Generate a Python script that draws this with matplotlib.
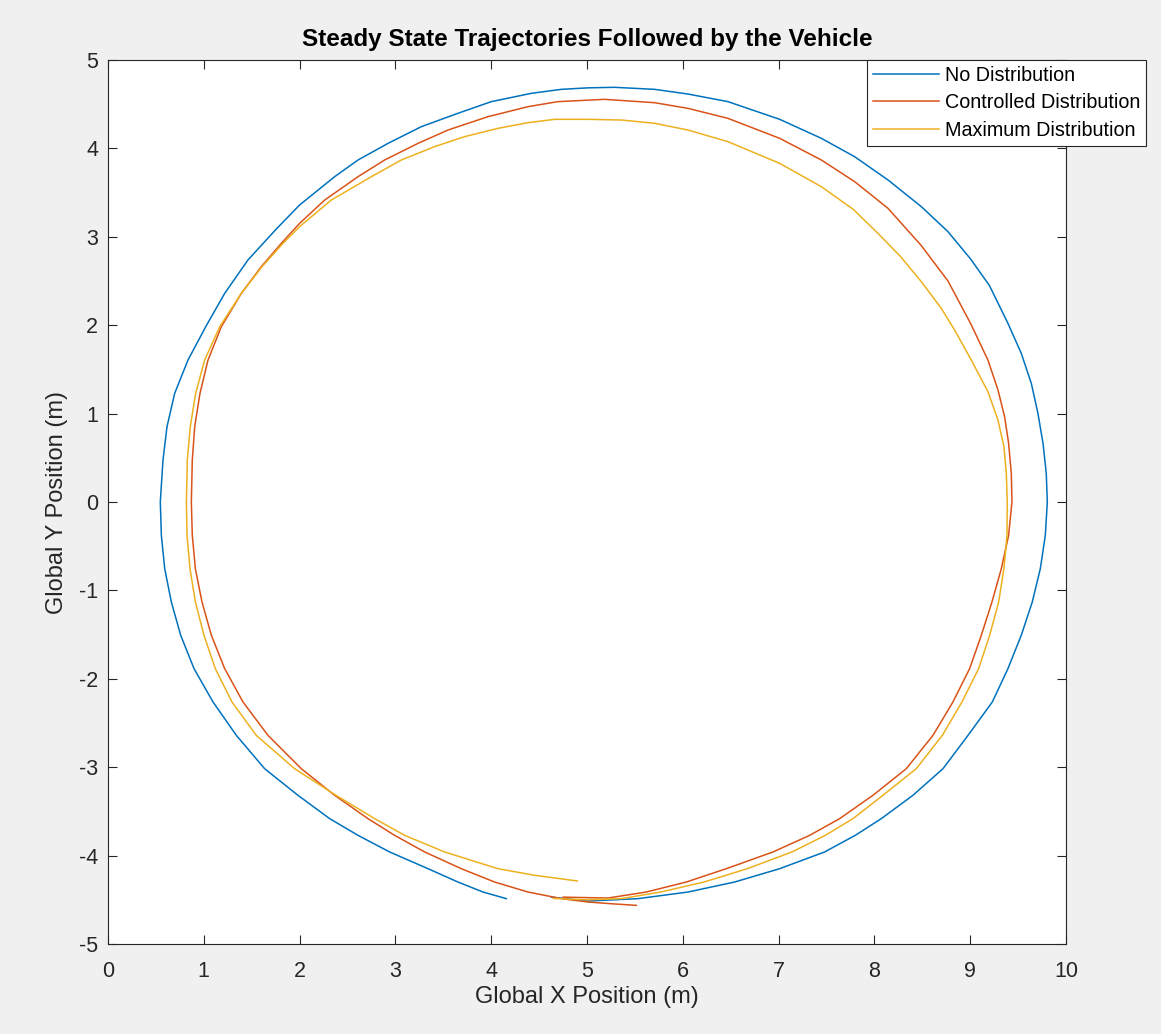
import matplotlib.pyplot as plt

# Trajectory points (metres), each run counter-clockwise
no_dist_x = [4.63, 5.01, 5.532, 6.054, 6.541, 7.011, 7.48, 7.80, 8.072, 8.402, 8.716, 8.977, 9.231, 9.394,
             9.533, 9.648, 9.732, 9.784, 9.805,
             9.794, 9.76, 9.707, 9.638, 9.533, 9.394, 9.2, 9.004, 8.768, 8.49, 8.142, 7.794, 7.446,
             7.011, 6.471, 6.054, 5.706, 5.288,
             5.01, 4.732, 4.419, 4.001, 3.653, 3.271, 2.923, 2.61, 2.366, 2.0, 1.75, 1.461, 1.218,
             1.02, 0.835, 0.696, 0.616, 0.574, 0.546,
             0.557, 0.592, 0.661, 0.759, 0.898, 1.096, 1.34, 1.635, 1.983, 2.314, 2.61, 2.94, 3.34,
             3.653, 3.914, 4.158]
no_dist_y = [-4.47, -4.514, -4.487, -4.412, -4.299, -4.148, -3.959, -3.771, -3.582, -3.318, -3.017, -2.64, -2.262, -1.885,
             -1.508, -1.131, -0.754, -0.377, 0.0,
             0.324, 0.664, 1.003, 1.342, 1.682, 2.021, 2.45, 2.749, 3.058, 3.341, 3.643, 3.906, 4.114,
             4.329, 4.529, 4.615, 4.668, 4.691,
             4.685, 4.668, 4.623, 4.529, 4.397, 4.246, 4.057, 3.869, 3.68, 3.36, 3.08, 2.738, 2.36,
             1.983, 1.606, 1.229, 0.852, 0.475, 0.0,
             -0.377, -0.754, -1.131, -1.508, -1.885, -2.262, -2.64, -3.017, -3.318, -3.582, -3.771, -3.959, -4.148,
             -4.299, -4.412, -4.487]

ctrl_x = [4.75, 5.219, 5.619, 6.036, 6.454, 6.941, 7.324, 7.637, 7.985, 8.333, 8.611, 8.82, 8.994, 9.116,
          9.227, 9.325, 9.401, 9.436,
          9.429, 9.401, 9.359, 9.29, 9.185, 9.004, 8.768, 8.49, 8.142, 7.794, 7.446, 7.011, 6.471,
          6.054, 5.706, 5.184,
          4.697, 4.384, 3.967, 3.549, 3.236, 2.888, 2.61, 2.262, 2.0, 1.809, 1.6, 1.392, 1.183,
          1.044, 0.96, 0.905, 0.88, 0.87,
          0.88, 0.912, 0.981, 1.079, 1.218, 1.409, 1.67, 2.018, 2.366, 2.714, 2.992, 3.306, 3.688,
          4.036, 4.384, 4.732, 5.01, 5.26, 5.515]
ctrl_y = [-4.47, -4.48, -4.412, -4.299, -4.148, -3.959, -3.771, -3.582, -3.318, -3.017, -2.64, -2.262, -1.885, -1.508,
          -1.131, -0.754, -0.377, 0.0,
          0.324, 0.664, 0.965, 1.267, 1.606, 2.02, 2.5, 2.9, 3.322, 3.624, 3.869, 4.114, 4.34,
          4.453, 4.517, 4.555,
          4.529, 4.472, 4.359, 4.208, 4.057, 3.869, 3.68, 3.416, 3.152, 2.926, 2.662, 2.36, 1.983,
          1.606, 1.229, 0.852, 0.475, 0.0,
          -0.377, -0.754, -1.131, -1.508, -1.885, -2.262, -2.64, -3.017, -3.318, -3.582, -3.771, -3.959, -4.148,
          -4.299, -4.412, -4.487, -4.525, -4.545, -4.563]

max_x = [4.65, 5.0, 5.358, 5.769, 6.221, 6.673, 7.139, 7.487, 7.776, 8.089, 8.437, 8.709, 8.914, 9.088,
         9.203, 9.297, 9.352, 9.384, 9.387,
         9.377, 9.352, 9.29, 9.185, 9.011, 8.837, 8.698, 8.49, 8.27, 8.037, 7.78, 7.446, 7.011,
         6.471, 6.054, 5.706, 5.358, 5.01,
         4.663, 4.384, 4.071, 3.723, 3.41, 3.062, 2.749, 2.331, 2.0, 1.827, 1.608, 1.392, 1.166,
         1.009, 0.915, 0.859, 0.828, 0.818,
         0.825, 0.856, 0.912, 1.002, 1.12, 1.294, 1.548, 1.948, 2.38, 2.784, 3.097, 3.514, 4.071,
         4.454, 4.899]
max_y = [-4.485, -4.5, -4.487, -4.412, -4.299, -4.148, -3.959, -3.771, -3.582, -3.318, -3.017, -2.64, -2.262, -1.885,
         -1.508, -1.131, -0.754, -0.377, 0.0,
         0.324, 0.626, 0.927, 1.248, 1.606, 1.946, 2.191, 2.492, 2.78, 3.039, 3.31, 3.567, 3.831,
         4.076, 4.208, 4.284, 4.321, 4.329,
         4.329, 4.291, 4.227, 4.133, 4.02, 3.869, 3.68, 3.416, 3.115, 2.926, 2.662, 2.36, 1.983,
         1.606, 1.229, 0.852, 0.475, 0.0,
         -0.377, -0.754, -1.131, -1.508, -1.885, -2.262, -2.64, -3.017, -3.318, -3.582, -3.771, -3.959, -4.148,
         -4.223, -4.287]

labels = ['No Distribution', 'Controlled Distribution', 'Maximum Distribution']
colors = ['#0072BD', '#D95319', '#EDB120']

plt.rcParams['font.family'] = ['Liberation Sans', 'DejaVu Sans']
plt.rcParams['axes.unicode_minus'] = False

fig = plt.figure(figsize=(11.61, 10.34), dpi=100, facecolor='#F0F0F0')
ax = fig.add_axes([108 / 1161, 1 - 944 / 1034, (1066 - 108) / 1161, (944 - 60) / 1034])

ax.plot(no_dist_x, no_dist_y, color=colors[0], lw=1.1, label=labels[0])
ax.plot(ctrl_x, ctrl_y, color=colors[1], lw=1.1, label=labels[1])
ax.plot(max_x, max_y, color=colors[2], lw=1.1, label=labels[2])

ax.set_xlim(0, 10)
ax.set_ylim(-5, 5)
ax.set_xticks(range(0, 11))
ax.set_yticks(range(-5, 6))
ax.tick_params(direction='in', length=6.5, width=0.8, top=True, right=True,
               labelsize=15.5, colors='#262626')
ax.tick_params(axis='x', pad=12)
ax.tick_params(axis='y', pad=7)
for s in ax.spines.values():
    s.set_color('#262626')
    s.set_linewidth(0.8)

ax.set_title('Steady State Trajectories Followed by the Vehicle',
             fontsize=17.5, fontweight='bold', pad=10)
ax.set_xlabel('Global X Position (m)', fontsize=17, color='#262626', labelpad=3)
ax.set_ylabel('Global Y Position (m)', fontsize=17, color='#262626', labelpad=8)

leg = ax.legend(loc='upper right', bbox_to_anchor=(1146 / 1161, 1 - 60 / 1034),
                bbox_transform=fig.transFigure, borderaxespad=0, fontsize=14.2,
                fancybox=False, framealpha=1, edgecolor='#262626',
                handlelength=3.35, handletextpad=0.3, labelspacing=0.43, borderpad=0.3)
leg.get_frame().set_linewidth(0.8)

fig.savefig('out.png', dpi=100, facecolor=fig.get_facecolor())
